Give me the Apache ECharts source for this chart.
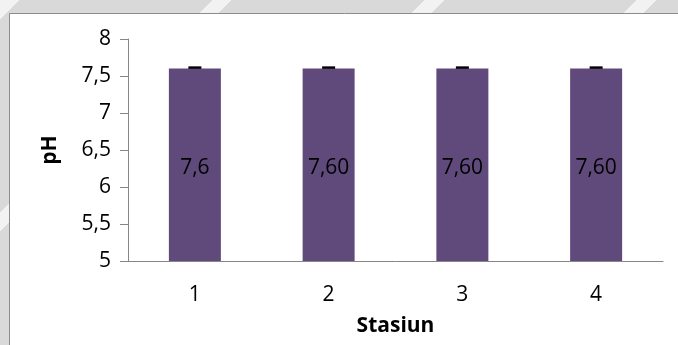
<!DOCTYPE html>
<html>
<head>
<meta charset="utf-8">
<script src="https://cdn.jsdelivr.net/npm/echarts@6/dist/echarts.min.js"></script>
<style>
  html, body { margin: 0; padding: 0; }
  body {
    width: 678px; height: 345px; overflow: hidden;
    background: repeating-linear-gradient(135deg, #f2f2f2 0px, #f2f2f2 14px, #d9d9d9 14px, #d9d9d9 150px);
  }
  #chart { position: absolute; left: 0; top: 0; width: 678px; height: 345px; }
</style>
</head>
<body>
<div id="chart"></div>
<script>
const categories = ['1', '2', '3', '4'];
const phValues = [7.6, 7.6, 7.6, 7.6];
const phLabels = ['7,6', '7,60', '7,60', '7,60'];
const phErrors = [0, 0, 0, 0];
const yTicks = { min: 5, max: 8, interval: 0.5 };

const FONT = '"Open Sans", sans-serif';
const chart = echarts.init(document.getElementById('chart'));
chart.setOption({
  animation: false,
  graphic: [{
    type: 'rect', silent: true, z: -10,
    shape: { x: 9.5, y: 13.5, width: 700, height: 360 },
    style: { fill: '#ffffff', stroke: '#8c8c8c', lineWidth: 1 }
  }],
  grid: { left: 128, top: 39, right: 15, bottom: 84, containLabel: false },
  xAxis: {
    type: 'category',
    data: categories,
    name: 'Stasiun',
    nameLocation: 'middle',
    nameGap: 55,
    nameTextStyle: { fontFamily: FONT, fontSize: 21, fontWeight: 'bold', color: '#000' },
    axisLine: { lineStyle: { color: '#868686', width: 1 } },
    axisTick: { show: false },
    axisLabel: { fontFamily: FONT, fontSize: 21, color: '#000', margin: 24 }
  },
  yAxis: {
    type: 'value',
    min: yTicks.min, max: yTicks.max, interval: yTicks.interval,
    name: 'pH',
    nameLocation: 'middle',
    nameGap: 67,
    nameRotate: 90,
    nameTextStyle: { fontFamily: FONT, fontSize: 21, fontWeight: 'bold', color: '#000' },
    axisLine: { show: true, lineStyle: { color: '#868686', width: 1 } },
    axisTick: { show: true, length: 8, lineStyle: { color: '#868686' } },
    splitLine: { show: false },
    axisLabel: {
      fontFamily: FONT, fontSize: 21, color: '#000', margin: 17,
      formatter: v => String(v).replace('.', ',')
    }
  },
  series: [{
    type: 'bar',
    data: phValues,
    barWidth: 52,
    itemStyle: { color: '#604a7b' },
    label: {
      show: true, position: 'inside', offset: [0, 3],
      fontFamily: FONT, fontSize: 21, color: '#000',
      formatter: p => phLabels[p.dataIndex]
    }
  }, {
    type: 'custom',
    data: phValues.map((v, i) => [i, v, phErrors[i]]),
    z: 5,
    renderItem: (params, api) => {
      const i = api.value(0), v = api.value(1), e = api.value(2);
      const hi = api.coord([i, v + e]);
      const lo = api.coord([i, v - e]);
      const w = 6.5;
      return {
        type: 'group',
        children: [
          { type: 'line', shape: { x1: hi[0], y1: hi[1], x2: lo[0], y2: lo[1] }, style: { stroke: '#000', lineWidth: 2 } },
          { type: 'line', shape: { x1: hi[0] - w, y1: hi[1] - 1, x2: hi[0] + w, y2: hi[1] - 1 }, style: { stroke: '#000', lineWidth: 2.5 } }
        ]
      };
    }
  }]
});
</script>
</body>
</html>
